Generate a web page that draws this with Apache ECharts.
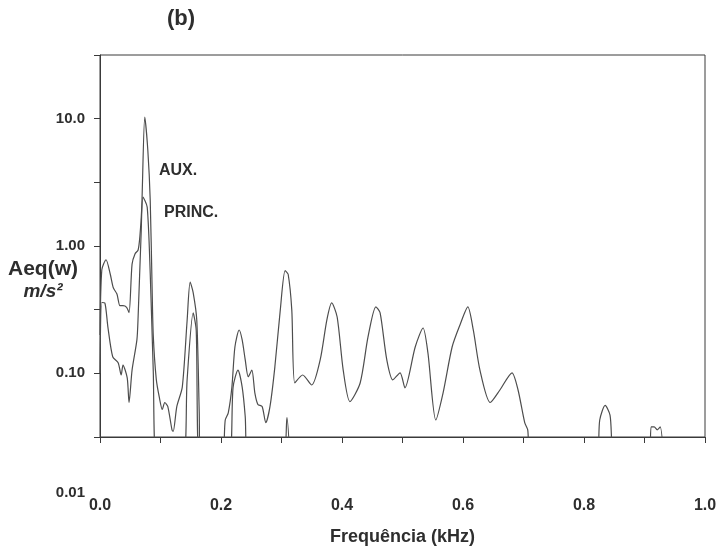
<!DOCTYPE html>
<html><head><meta charset="utf-8">
<script src="https://cdn.jsdelivr.net/npm/echarts@6/dist/echarts.min.js"></script>
<style>html,body{margin:0;padding:0;background:#fff}#c{width:720px;height:557px}</style>
</head><body><div id="c"></div><script>
// Frequency in kHz, amplitude Aeq(w) in m/s^2 (values below 0.0316 fall under the axis)
const auxFreq = [0.000,0.003,0.010,0.017,0.022,0.028,0.033,0.038,0.044,0.048,0.053,0.058,0.063,0.066,0.069,0.074,0.079,0.083,0.086,0.088,0.093,0.098,0.103,0.107,0.112,0.119,0.121,0.127,0.136,0.144,0.149,0.154,0.160,0.164,0.166,
  0.200,0.207,0.212,0.218,0.223,0.230,0.235,0.240,0.245,0.251,0.256,0.261,0.268,0.274,0.281,0.289,0.298,0.306,0.311,0.317,0.322,0.335,0.350,0.364,0.375,0.383,0.392,0.402,0.413,0.430,0.443,0.456,0.463,0.474,0.484,0.496,0.504,0.521,0.534,0.542,0.555,0.567,0.582,0.595,0.608,0.617,0.628,0.645,0.661,0.681,0.691,0.702,0.707,0.712,
  0.820,0.826,0.835,0.843,0.853,0.907,0.911,0.916,0.921,0.926,0.932];
const auxVal = [0.20,0.65,0.78,0.60,0.47,0.42,0.34,0.34,0.33,0.30,0.72,0.87,0.93,1.2,2.0,10.3,5.7,2.3,0.5,0.2,0.09,0.065,0.052,0.059,0.055,0.036,0.035,0.055,0.078,0.26,0.52,0.43,0.26,0.05,0.02,
  0.02,0.043,0.049,0.078,0.161,0.219,0.183,0.128,0.094,0.106,0.070,0.057,0.055,0.041,0.055,0.112,0.315,0.640,0.600,0.315,0.084,0.097,0.081,0.128,0.263,0.357,0.277,0.106,0.060,0.084,0.193,0.333,0.298,0.128,0.089,0.101,0.077,0.161,0.227,0.145,0.043,0.070,0.161,0.240,0.333,0.219,0.106,0.059,0.074,0.101,0.074,0.041,0.036,0.02,
  0.02,0.043,0.056,0.047,0.02,0.02,0.038,0.038,0.036,0.038,0.02];
const princFreq = [0.000,0.003,0.008,0.013,0.021,0.030,0.035,0.038,0.045,0.048,0.053,0.061,0.063,0.068,0.071,0.078,0.083,0.088,0.094,
  0.137,0.144,0.154,0.159,0.165,0.212,0.220,0.228,0.235,0.240,0.245,0.301,0.309,0.314];
const princVal = [0.10,0.36,0.357,0.232,0.135,0.121,0.097,0.116,0.092,0.059,0.106,0.183,0.277,1.26,2.42,2.02,0.61,0.106,0.02,
  0.02,0.089,0.298,0.219,0.02,0.02,0.078,0.106,0.078,0.046,0.02,0.02,0.045,0.02];
const xTickLabels = ['0.0','0.2','0.4','0.6','0.8','1.0'];
const yTickLabels = [[10,'10.0'],[1,'1.00'],[0.1,'0.10']];
const seriesNames = ['AUX.','PRINC.'];
const bottomLabel = '0.01';

const zip = (a,b) => a.map((f,i)=>[f,b[i]]);
const ink = '#2e2e2e';
const lineColor = '#4d4d4d';
const chart = echarts.init(document.getElementById('c'), null, {renderer:'canvas'});
chart.setOption({
  animation:false,
  backgroundColor:'#fff',
  grid:{left:100,right:15,top:55,bottom:120,show:true,borderColor:'#3a3a3a',borderWidth:1},
  xAxis:{type:'value',min:0,max:1,interval:0.1,
    axisLine:{lineStyle:{color:'#3a3a3a',width:1}},
    axisTick:{show:true,length:6,lineStyle:{color:'#3a3a3a'}},
    splitLine:{show:false},
    axisLabel:{margin:61,color:ink,fontFamily:'Liberation Sans, Arial',fontWeight:'bold',fontSize:16,
      formatter:v=>{const k=Math.round(v*10);return k%2===0?xTickLabels[k/2]:'';}},
    name:'Frequência (kHz)',nameLocation:'middle',nameGap:91,
    nameTextStyle:{color:ink,fontFamily:'Liberation Sans, Arial',fontWeight:'bold',fontSize:18}
  },
  yAxis:{type:'log',logBase:10,min:Math.pow(10,-1.5),max:Math.pow(10,1.5),interval:0.5,
    axisLine:{show:true,lineStyle:{color:'#3a3a3a',width:1}},
    axisTick:{show:true,length:6,lineStyle:{color:'#3a3a3a'}},
    splitLine:{show:false},minorTick:{show:false},
    axisLabel:{margin:15,color:ink,fontFamily:'Liberation Sans, Arial',fontWeight:'bold',fontSize:15,
      padding:[0,0,16,0],
      formatter:v=>{for(const [t,s] of yTickLabels){if(Math.abs(Math.log10(v)-Math.log10(t))<1e-6)return s;}return '';}}
  },
  graphic:[
    {type:'text',left:167,top:8,style:{text:'(b)',font:'bold 22px "Liberation Sans", Arial',fill:ink}},
    {type:'text',x:43,y:269,style:{text:'Aeq(w)',font:'bold 21px "Liberation Sans", Arial',fill:ink,align:'center',verticalAlign:'middle'}},
    {type:'text',x:43,y:292,style:{text:'m/s²',font:'italic bold 19px "Liberation Sans", Arial',fill:ink,align:'center',verticalAlign:'middle'}},
    {type:'text',x:85,y:493,style:{text:bottomLabel,font:'bold 15px "Liberation Sans", Arial',fill:ink,align:'right',verticalAlign:'middle'}},
    {type:'text',x:159,y:171,style:{text:seriesNames[0],font:'bold 16px "Liberation Sans", Arial',fill:ink,verticalAlign:'middle'}},
    {type:'text',x:164,y:213,style:{text:seriesNames[1],font:'bold 16px "Liberation Sans", Arial',fill:ink,verticalAlign:'middle'}}
  ],
  series:[
    {name:seriesNames[0],type:'line',data:zip(auxFreq,auxVal),showSymbol:false,smooth:0.25,clip:true,
      lineStyle:{color:lineColor,width:1.2}},
    {name:seriesNames[1],type:'line',data:zip(princFreq,princVal),showSymbol:false,smooth:0.25,clip:true,
      lineStyle:{color:lineColor,width:1.2}}
  ]
});
</script></body></html>
